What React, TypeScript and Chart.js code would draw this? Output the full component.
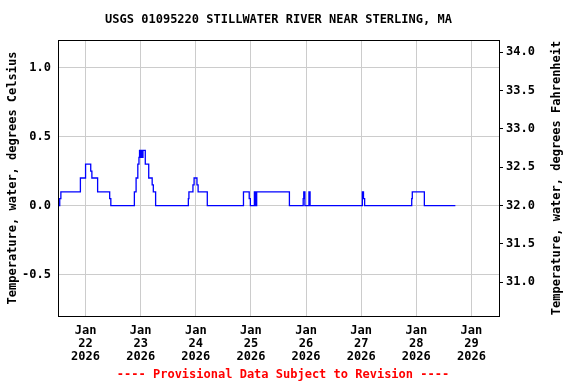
import React, { useEffect, useRef } from "react";
import { Chart, registerables } from "chart.js";

Chart.register(...registerables);

const chartTitle = "USGS 01095220 STILLWATER RIVER NEAR STERLING, MA";
const leftAxisTitle = "Temperature, water, degrees Celsius";
const rightAxisTitle = "Temperature, water, degrees Fahrenheit";
const footerText = "---- Provisional Data Subject to Revision ----";

// hours since Jan 22 2026 00:00
const dayTickHours = [0, 24, 48, 72, 96, 120, 144, 168];
const dayTickLabels = [
  ["Jan", "22", "2026"],
  ["Jan", "23", "2026"],
  ["Jan", "24", "2026"],
  ["Jan", "25", "2026"],
  ["Jan", "26", "2026"],
  ["Jan", "27", "2026"],
  ["Jan", "28", "2026"],
  ["Jan", "29", "2026"],
];
const celsiusTicks = [-0.5, 0, 0.5, 1.0];
const fahrenheitTicks = [31.0, 31.5, 32.0, 32.5, 33.0, 33.5, 34.0];

const obsHours = [
  -11.75, -11.25, -10.75, -2.25, 0, 2.25, 2.75, 5.25, 10.5, 11.0,
  21.25, 22.0, 22.75, 23.25, 23.5, 23.75, 24.0, 24.25, 24.5, 24.75,
  25.0, 26.0, 27.5, 29.0, 29.5, 30.5, 44.75, 45.0, 46.75, 47.25,
  48.5, 49.0, 53.0, 68.75, 71.25, 71.75, 73.5, 73.75, 74.0, 74.25,
  74.5, 88.75, 94.75, 95.0, 95.5, 97.25, 97.75, 120.5, 121.0, 121.5,
  142.0, 142.25, 147.5, 161.0,
];
const tempC = [
  0, 0.05, 0.1, 0.2, 0.3, 0.25, 0.2, 0.1, 0.05, 0,
  0.1, 0.2, 0.3, 0.35, 0.4, 0.35, 0.4, 0.35, 0.4, 0.35,
  0.4, 0.3, 0.2, 0.15, 0.1, 0, 0.05, 0.1, 0.15, 0.2,
  0.15, 0.1, 0, 0.1, 0.05, 0, 0.1, 0, 0.1, 0,
  0.1, 0, 0.05, 0.1, 0, 0.1, 0, 0.1, 0.05, 0,
  0.05, 0.1, 0, 0,
];

const FONT = "'DejaVu Sans Mono', monospace";

export default function App() {
  const ref = useRef<HTMLCanvasElement | null>(null);

  useEffect(() => {
    document.body.style.margin = "0";
    const canvas = ref.current;
    if (!canvas) return;

    const decor = {
      id: "decor",
      afterDraw(chart: any) {
        const ctx = chart.ctx;
        const a = chart.chartArea;
        ctx.save();
        ctx.strokeStyle = "#000";
        ctx.lineWidth = 1;
        ctx.strokeRect(Math.round(a.left) + 0.5, Math.round(a.top) + 0.5, Math.round(a.right - a.left), Math.round(a.bottom - a.top));
        ctx.font = `bold 12px ${FONT}`;
        ctx.fillStyle = "#000";
        ctx.textAlign = "center";
        ctx.textBaseline = "middle";
        ctx.fillText(chartTitle, (a.left + a.right) / 2, 20);
        const cy = (a.top + a.bottom) / 2;
        ctx.save();
        ctx.translate(13, cy);
        ctx.rotate(-Math.PI / 2);
        ctx.fillText(leftAxisTitle, 0, 0);
        ctx.restore();
        ctx.save();
        ctx.translate(557, cy);
        ctx.rotate(-Math.PI / 2);
        ctx.fillText(rightAxisTitle, 0, 0);
        ctx.restore();
        ctx.fillStyle = "#ff0000";
        ctx.fillText(footerText, 283, 375);
        ctx.restore();
      },
    };

    const chart = new Chart(canvas, {
      type: "line",
      data: {
        datasets: [
          {
            data: obsHours.map((h, i) => ({ x: h, y: tempC[i] })),
            borderColor: "#0000ff",
            borderWidth: 1.3,
            pointRadius: 0,
            stepped: "before",
            fill: false,
            yAxisID: "y",
          },
        ],
      },
      options: {
        animation: false,
        responsive: false,
        layout: { padding: { top: 40, left: 0, right: 0, bottom: 0 } },
        plugins: {
          legend: { display: false },
          title: { display: false },
          tooltip: { enabled: false },
        },
        scales: {
          x: {
            type: "linear",
            min: -12,
            max: 180,
            afterFit: (s: any) => {
              s.height = 68;
            },
            afterBuildTicks: (s: any) => {
              s.ticks = dayTickHours.map((v) => ({ value: v }));
            },
            border: { display: false },
            grid: { color: "#cccccc", drawTicks: false, lineWidth: 1 },
            ticks: {
              autoSkip: false,
              maxRotation: 0,
              padding: 8,
              color: "#000",
              font: { family: FONT, size: 12, weight: "bold", lineHeight: 1.1 },
              callback: (v: any) => {
                const i = dayTickHours.indexOf(Number(v));
                return i >= 0 ? dayTickLabels[i] : "";
              },
            },
          },
          y: {
            type: "linear",
            position: "left",
            min: -0.8,
            max: 1.2,
            afterFit: (s: any) => {
              s.width = 58;
            },
            afterBuildTicks: (s: any) => {
              s.ticks = celsiusTicks.map((v) => ({ value: v }));
            },
            border: { display: false },
            grid: { color: "#cccccc", drawTicks: false, lineWidth: 1 },
            ticks: {
              padding: 7,
              color: "#000",
              font: { family: FONT, size: 12, weight: "bold" },
              callback: (v: any) => Number(v).toFixed(1),
            },
          },
          y2: {
            type: "linear",
            position: "right",
            min: -0.8 * 1.8 + 32,
            max: 1.2 * 1.8 + 32,
            afterFit: (s: any) => {
              s.width = 77;
            },
            afterBuildTicks: (s: any) => {
              s.ticks = fahrenheitTicks.map((v) => ({ value: v }));
            },
            border: { display: false },
            grid: {
              drawOnChartArea: false,
              drawTicks: true,
              tickLength: 4,
              color: "#000",
              lineWidth: 1,
            },
            ticks: {
              padding: 3,
              color: "#000",
              font: { family: FONT, size: 12, weight: "bold" },
              callback: (v: any) => Number(v).toFixed(1),
            },
          },
        },
      },
      plugins: [decor],
    } as any);

    return () => chart.destroy();
  }, []);

  return <canvas ref={ref} width={576} height={384} style={{ display: "block" }} />;
}
